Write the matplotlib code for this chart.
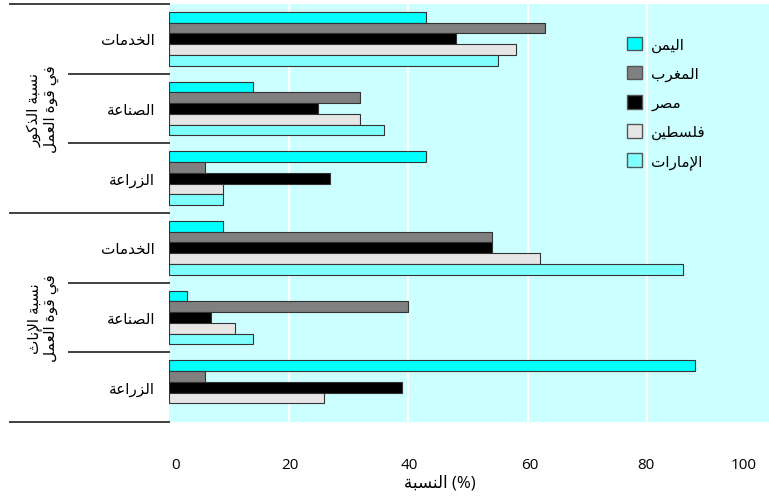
import matplotlib
matplotlib.use("Agg")
import matplotlib.pyplot as plt
import matplotlib.transforms as mtransforms
from matplotlib.patches import Patch
import numpy as np

plt.rcParams['font.family'] = ['Open Sans', 'DejaVu Sans']

# data
categories = ['الخدمات', 'الصناعة', 'الزراعة', 'الخدمات', 'الصناعة', 'الزراعة']
countries = ['اليمن', 'المغرب', 'مصر', 'فلسطين', 'الإمارات']
yemen = [43, 14, 43, 9, 3, 88]
morocco = [63, 32, 6, 54, 40, 6]
egypt = [48, 25, 27, 54, 7, 39]
palestine = [58, 32, 9, 62, 11, 26]
uae = [55, 36, 9, 86, 14, 0]
groups = [('نسبة الذكور', 'في قوة العمل'), ('نسبة الإناث', 'في قوة العمل')]
xticks = [0, 20, 40, 60, 80, 100]
xlabel = 'النسبة'

colors = ['#00ffff', '#808080', '#000000', '#e6e6e6', '#80ffff']

# matplotlib does no arabic shaping, so pick presentation forms by hand
FORMS = {
    'ا': (0xFE8D, 2), 'إ': (0xFE87, 2), 'ب': (0xFE8F, 4), 'ة': (0xFE93, 2),
    'ت': (0xFE95, 4), 'ث': (0xFE99, 4), 'خ': (0xFEA5, 4), 'د': (0xFEA9, 2),
    'ذ': (0xFEAB, 2), 'ر': (0xFEAD, 2), 'ز': (0xFEAF, 2), 'س': (0xFEB1, 4),
    'ص': (0xFEB9, 4), 'ط': (0xFEC1, 4), 'ع': (0xFEC9, 4), 'غ': (0xFECD, 4),
    'ف': (0xFED1, 4), 'ق': (0xFED5, 4), 'ك': (0xFED9, 4), 'ل': (0xFEDD, 4),
    'م': (0xFEE1, 4), 'ن': (0xFEE5, 4), 'و': (0xFEED, 2), 'ي': (0xFEF1, 4),
}
LAM_ALEF = {'ا': 0xFEFB, 'إ': 0xFEF9}


def shape(text):
    chars = list(text)
    out = []
    i = 0
    while i < len(chars):
        c = chars[i]
        if c not in FORMS:
            out.append(c)
            i += 1
            continue
        prev = chars[i - 1] if i > 0 else None
        joins_prev = prev in FORMS and FORMS[prev][1] == 4
        if c == 'ل' and i + 1 < len(chars) and chars[i + 1] in LAM_ALEF:
            out.append(chr(LAM_ALEF[chars[i + 1]] + (1 if joins_prev else 0)))
            i += 2
            continue
        base, n = FORMS[c]
        nxt = chars[i + 1] if i + 1 < len(chars) else None
        joins_next = n == 4 and nxt in FORMS
        if joins_prev:
            form = 3 if joins_next else 1
        else:
            form = 2 if joins_next else 0
        out.append(chr(base + form))
        i += 1
    return ''.join(reversed(out))


fig = plt.figure(figsize=(7.69, 5.02), dpi=100)
ax = fig.add_axes([169 / 769, 1 - 423 / 502, 600 / 769, 418 / 502])
ax.set_facecolor('#ccffff')

y = np.arange(len(categories))
h = 0.155
series = [yemen, morocco, egypt, palestine, uae]
for j, (vals, col) in enumerate(zip(series, colors)):
    lws = [0.8 if v > 0 else 0 for v in vals]
    ax.barh(y + (j - 2) * h, vals, height=h, color=col,
            edgecolor='#333333', linewidth=lws, zorder=3)

ax.set_xlim(0, 100.4)
ax.set_ylim(5.5, -0.5)
ax.set_xticks(xticks)
ax.set_xticklabels([str(t) for t in xticks], fontsize=11)
ax.tick_params(axis='x', length=0, pad=25)
shifts = [7, 1, 1, 2, -1, -23]
for lbl, dx in zip(ax.get_xticklabels(), shifts):
    lbl.set_transform(lbl.get_transform() +
                      mtransforms.ScaledTranslation(dx / 100, 0, fig.dpi_scale_trans))
ax.grid(axis='x', color='white', linewidth=1.6, zorder=1)
gl = ax.get_xgridlines()
gl[0].set_visible(False)
gl[-1].set_visible(False)
ax.set_axisbelow(True)

ax.set_yticks(y)
ax.set_yticklabels([shape(c) for c in categories], fontsize=11)
ax.tick_params(axis='y', length=0, pad=10)
for s in ax.spines.values():
    s.set_visible(False)

# separator lines on the left
trans = mtransforms.blended_transform_factory(ax.transAxes, ax.transData)
for b in [-0.5, 2.5, 5.5]:
    ax.plot([-159 / 600, 0], [b, b], color='#404040', lw=1.4,
            transform=trans, clip_on=False)
for b in [0.5, 1.5, 3.5, 4.5]:
    ax.plot([-100 / 600, 0], [b, b], color='#404040', lw=1.4,
            transform=trans, clip_on=False)

for (l1, l2), yc in zip(groups, [1, 4]):
    ax.text(-126 / 600, yc, shape(l1) + '\n' + shape(l2), rotation=90,
            transform=trans, ha='center', va='center', fontsize=11,
            multialignment='center', linespacing=1.1)

fig.text(440 / 769, 1 - 484 / 502, shape(xlabel) + ' (%)',
         ha='center', va='center', fontsize=12)

handles = [Patch(facecolor=c, edgecolor='#555555', linewidth=1) for c in colors]
ax.legend(handles, [shape(c) for c in countries], loc='upper left',
          bbox_to_anchor=(444 / 600, 1 - 19 / 418), frameon=False,
          fontsize=11, handlelength=1.0, handleheight=1.0,
          labelspacing=0.85, handletextpad=0.6)

fig.savefig('out.png', dpi=100)
